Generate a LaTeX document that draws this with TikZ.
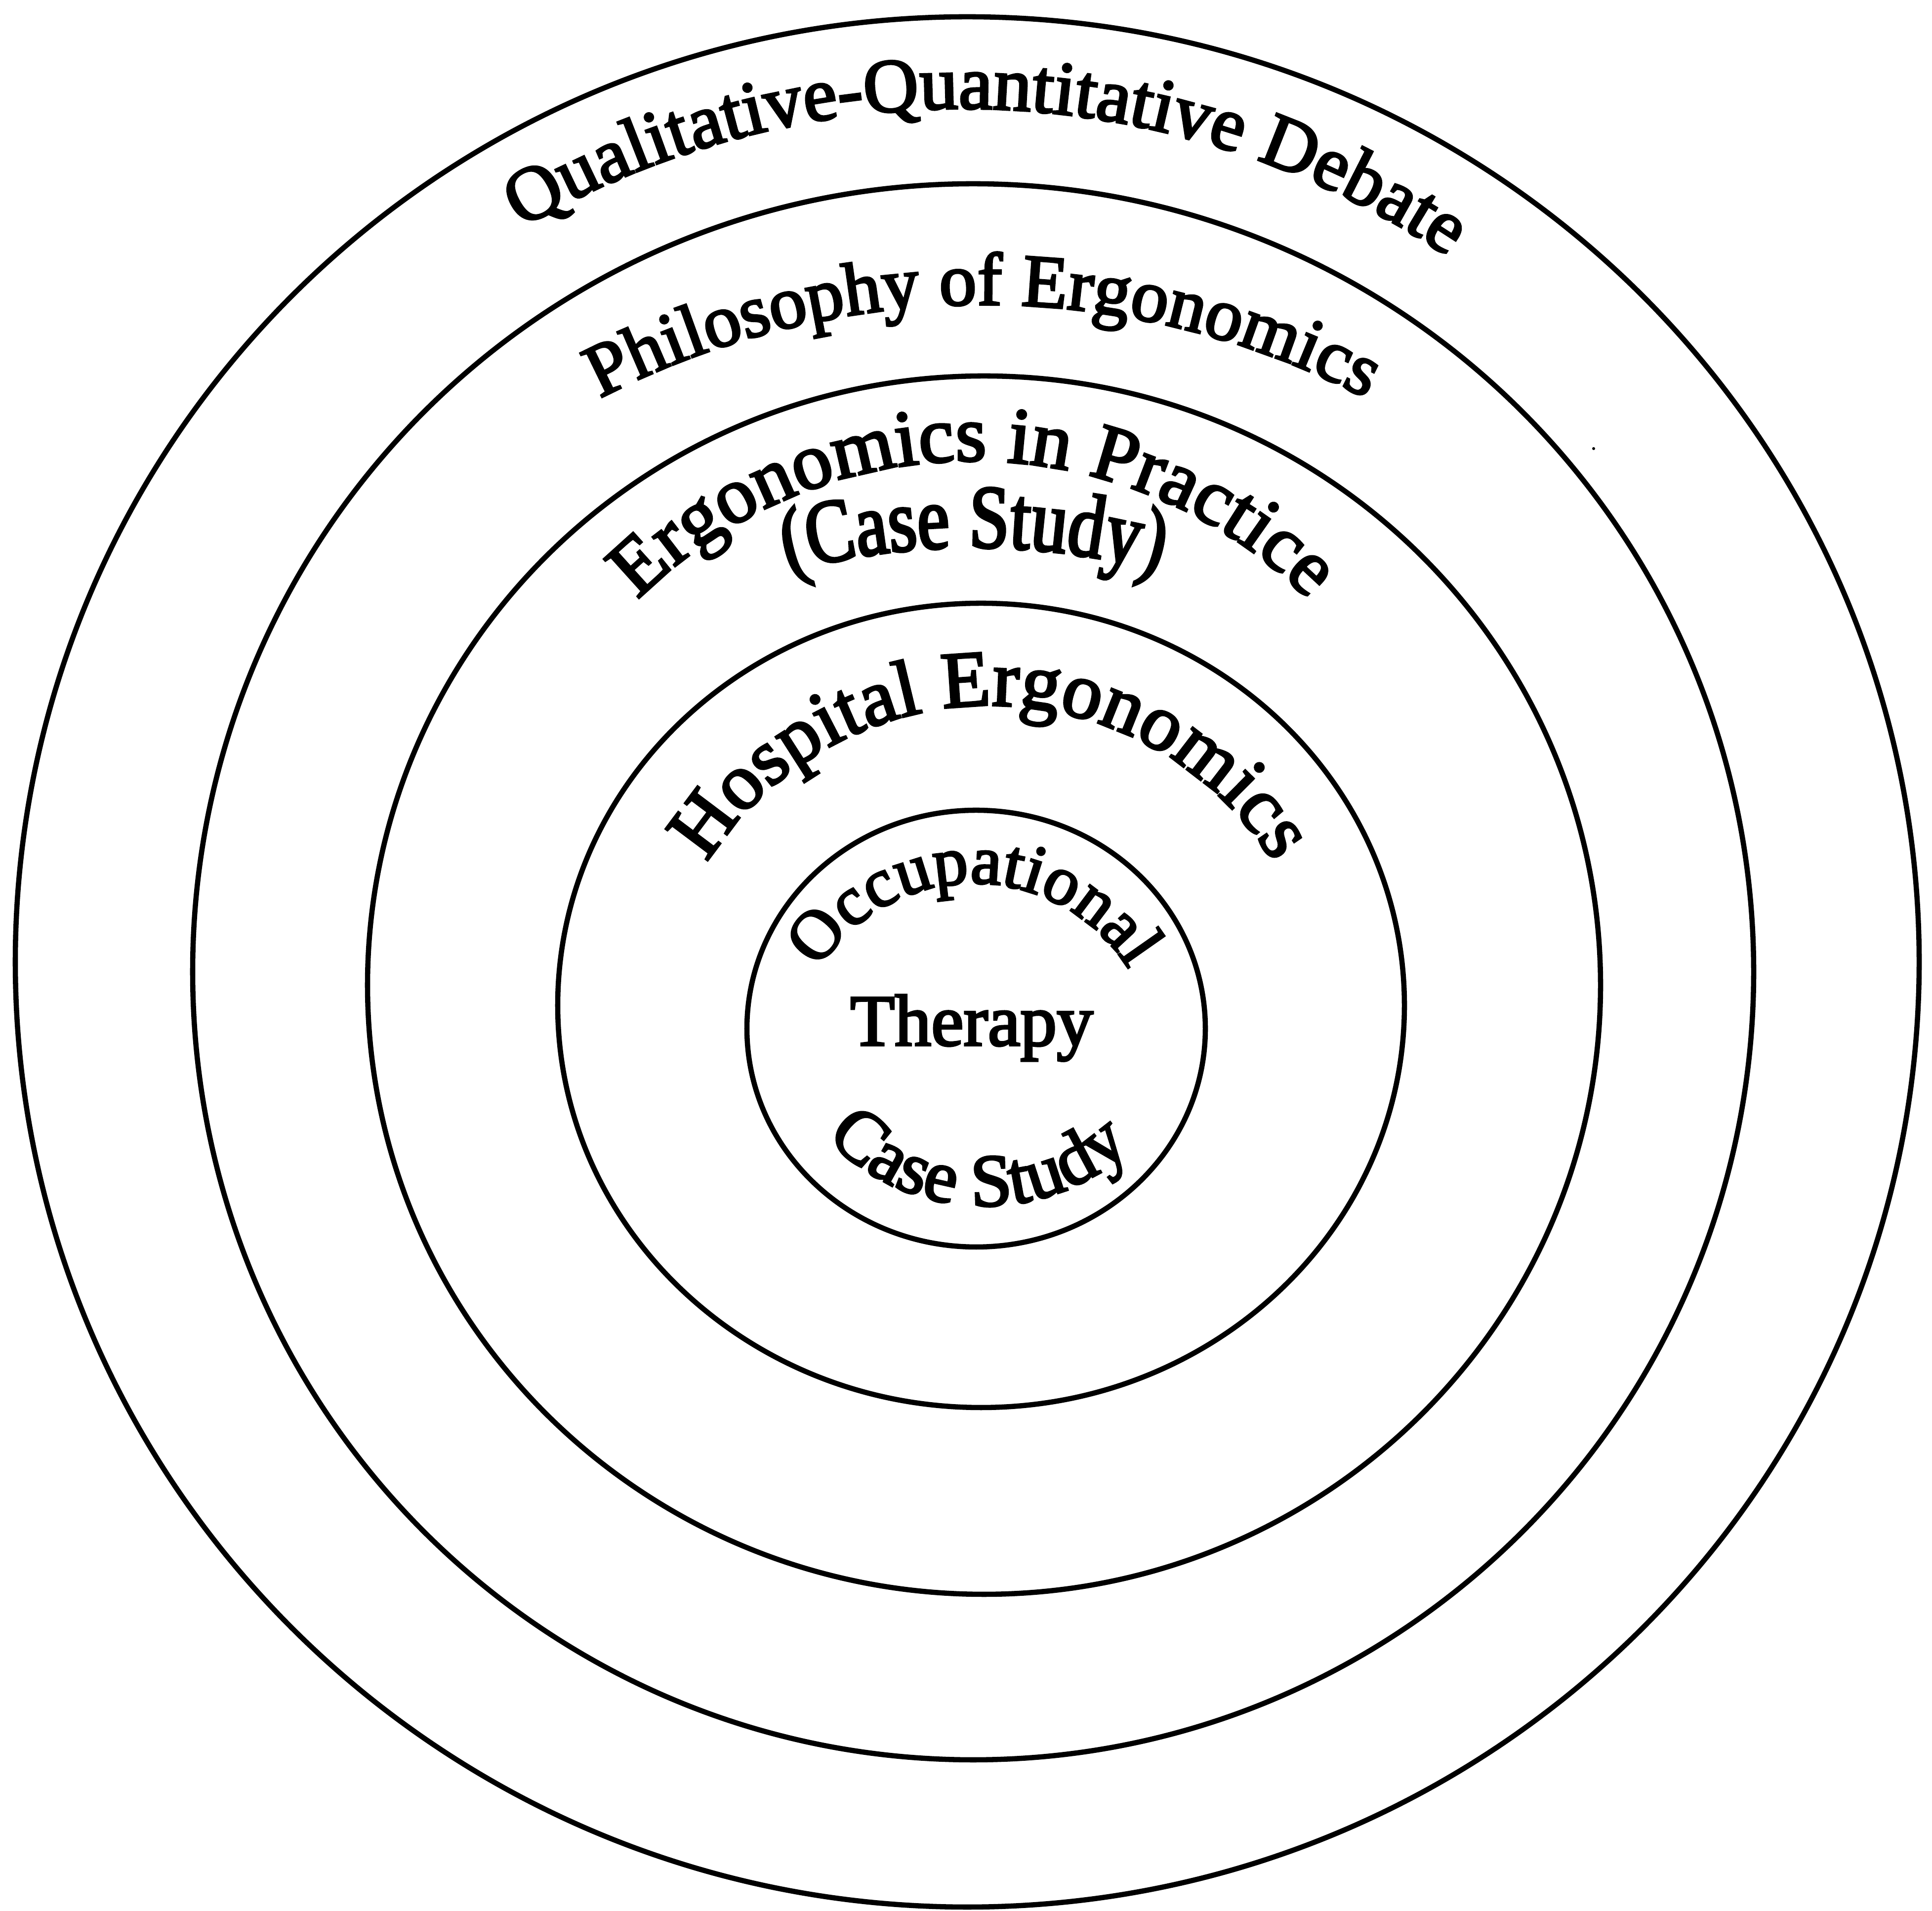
\documentclass[tikz,border=0pt]{standalone}
\usepackage{fontspec}
\setmainfont{Liberation Serif}[FakeBold=3]
\newfontfamily\condfont{Liberation Serif}[FakeStretch=0.8,FakeBold=3]
\usetikzlibrary{decorations.text}
\tikzset{
  ring/.style={draw=black, line width=3pt},
}
\begin{document}
\begin{tikzpicture}
\fill[white] (0,0) rectangle (39.11,38.68);
\useasboundingbox (0,0) rectangle (39.11,38.68);
% rings
\draw[ring] (19.58,19.21) ellipse [x radius=19.27, y radius=19.13];
\draw[ring] (19.70,19.01) ellipse [x radius=15.80, y radius=15.95];
\draw[ring] (19.92,18.74) ellipse [x radius=12.48, y radius=12.33];
\draw[ring] (19.86,18.33) ellipse [x radius=8.57, y radius=8.14];
\draw[ring] (19.76,17.86) ellipse [x radius=4.64, y radius=4.42];
% curved labels
\coordinate (t1) at (19.48,18.85);
\coordinate (t2) at (19.90,15.70);
\coordinate (t3) at (19.70,19.75);
\coordinate (t3b) at (19.71,13.30);
\coordinate (t4) at (20.05,17.65);
\coordinate (t5) at (19.71,17.10);
\coordinate (t6) at (19.92,18.64);
\path[decorate, decoration={text along path, text align=center,
  text={|\fontsize{44}{50}\selectfont|Qualitative-Quantitative Debate}}]
  (t1) ++(148.25:17.63) arc[start angle=148.25, end angle=28.25, radius=17.63];
\path[decorate, decoration={text along path, text align=center,
  text={|\fontsize{43}{50}\selectfont|Philosophy of Ergonomics}}]
  (t2) ++(150:16.81) arc[start angle=150, end angle=30, radius=16.81];
\path[decorate, decoration={text along path, text align=center,
  text={|\fontsize{46}{52}\selectfont|Ergonomics in Practice}}]
  (t3) ++(170:9.60) arc[start angle=170, end angle=10, radius=9.60];
\path[decorate, decoration={text along path, text align=center,
  text={|\condfont\fontsize{52}{58}\selectfont|(Case Study)}}]
  (t3b) ++(130:14.30) arc[start angle=130, end angle=50, radius=14.30];
\path[decorate, decoration={text along path, text align=center,
  text={|\fontsize{46}{52}\selectfont|Hospital Ergonomics}}]
  (t4) ++(175:6.75) arc[start angle=175, end angle=5, radius=6.75];
\path[decorate, decoration={text along path, text align=center,
  text={|\fontsize{40}{46}\selectfont|Occupational}}]
  (t5) ++(175:3.70) arc[start angle=175, end angle=5, radius=3.70];
\path[decorate, decoration={text along path, text align=center,
  text={|\fontsize{43}{49}\selectfont|Case Study}}]
  (t6) ++(178:4.37) arc[start angle=178, end angle=358, radius=4.37];
\node[font=\fontsize{42}{50}\selectfont, anchor=base, inner sep=0pt] (therapy) at (19.67,17.52) {Therapy};
% speck
\fill (32.26,29.60) circle (0.03);
\end{tikzpicture}
\end{document}
